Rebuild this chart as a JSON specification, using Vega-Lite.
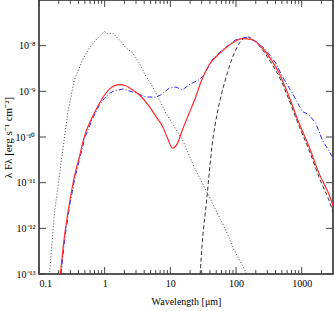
{
  "$schema": "https://vega.github.io/schema/vega-lite/v6.json",
  "width": 294,
  "height": 274,
  "autosize": {"type": "none"},
  "padding": {"left": 39, "top": 0, "right": 2, "bottom": 37},
  "background": "white",
  "config": {
    "font": "Liberation Serif",
    "view": {"stroke": "#222", "strokeWidth": 1.5},
    "axis": {"domain": false, "grid": false, "ticks": false, "labelFont": "Liberation Serif", "titleFont": "Liberation Serif", "labelColor": "#000", "titleColor": "#000", "labelFontSize": 10, "titleFontSize": 10, "titleFontWeight": "normal"}
  },
  "datasets": {
    "xmajor": [{"t": 0.1}, {"t": 1}, {"t": 10}, {"t": 100}, {"t": 1000}],
    "xminor": [{"t": 0.2}, {"t": 0.3}, {"t": 0.4}, {"t": 0.5}, {"t": 0.6}, {"t": 0.7}, {"t": 0.8}, {"t": 0.9},
               {"t": 2}, {"t": 3}, {"t": 4}, {"t": 5}, {"t": 6}, {"t": 7}, {"t": 8}, {"t": 9},
               {"t": 20}, {"t": 30}, {"t": 40}, {"t": 50}, {"t": 60}, {"t": 70}, {"t": 80}, {"t": 90},
               {"t": 200}, {"t": 300}, {"t": 400}, {"t": 500}, {"t": 600}, {"t": 700}, {"t": 800}, {"t": 900}, {"t": 2000}],
    "ymajor": [{"t": 1e-13}, {"t": 1e-12}, {"t": 1e-11}, {"t": 1e-10}, {"t": 1e-9}, {"t": 1e-8}],
    "red": [
      {"w": 0.205, "f": 6e-14}, {"w": 0.212, "f": 1e-13}, {"w": 0.244, "f": 6.6e-13}, {"w": 0.291, "f": 3.55e-12},
      {"w": 0.346, "f": 1.36e-11}, {"w": 0.413, "f": 3.73e-11}, {"w": 0.491, "f": 1.03e-10}, {"w": 0.621, "f": 2.38e-10},
      {"w": 0.783, "f": 4.67e-10}, {"w": 0.99, "f": 8.2e-10}, {"w": 1.18, "f": 1.12e-9}, {"w": 1.4, "f": 1.32e-9},
      {"w": 1.7, "f": 1.4e-9}, {"w": 2.0, "f": 1.36e-9}, {"w": 2.37, "f": 1.2e-9}, {"w": 3.37, "f": 8.4e-10},
      {"w": 4.78, "f": 4.67e-10}, {"w": 6.04, "f": 2.82e-10}, {"w": 7.61, "f": 1.7e-10}, {"w": 9.06, "f": 9.46e-11},
      {"w": 10.8, "f": 5.71e-11}, {"w": 12.9, "f": 7.35e-11}, {"w": 15.3, "f": 1.44e-10}, {"w": 19.4, "f": 3.34e-10},
      {"w": 24.5, "f": 7.73e-10}, {"w": 29.2, "f": 1.6e-9}, {"w": 39, "f": 3.83e-9}, {"w": 55.3, "f": 6.6e-9},
      {"w": 88.2, "f": 1.15e-8}, {"w": 125, "f": 1.43e-8}, {"w": 177, "f": 1.35e-8}, {"w": 252, "f": 8.9e-9},
      {"w": 357, "f": 4.53e-9}, {"w": 452, "f": 2.52e-9}, {"w": 641, "f": 7.73e-10}, {"w": 910, "f": 2.02e-10},
      {"w": 1291, "f": 6.19e-11}, {"w": 1832, "f": 1.62e-11}, {"w": 2917, "f": 3.55e-12}, {"w": 3000, "f": 3.1e-12}
    ],
    "blue": [
      {"w": 0.207, "f": 6e-14}, {"w": 0.217, "f": 1e-13}, {"w": 0.248, "f": 6.4e-13}, {"w": 0.296, "f": 3.4e-12},
      {"w": 0.353, "f": 1.3e-11}, {"w": 0.42, "f": 3.5e-11}, {"w": 0.5, "f": 9.6e-11}, {"w": 0.628, "f": 2.2e-10},
      {"w": 0.83, "f": 5.0e-10}, {"w": 0.99, "f": 7.0e-10}, {"w": 1.18, "f": 9.0e-10}, {"w": 1.4, "f": 1.03e-9},
      {"w": 1.88, "f": 1.12e-9}, {"w": 3.0, "f": 9.2e-10}, {"w": 4.26, "f": 7.5e-10}, {"w": 6.04, "f": 7.5e-10},
      {"w": 7.2, "f": 8.4e-10}, {"w": 9.62, "f": 1.18e-9}, {"w": 12.2, "f": 1.24e-9}, {"w": 15.3, "f": 1.08e-9},
      {"w": 19.4, "f": 1.4e-9}, {"w": 27.5, "f": 1.8e-9}, {"w": 32.7, "f": 2.31e-9}, {"w": 43.8, "f": 4.93e-9},
      {"w": 62.1, "f": 8.17e-9}, {"w": 99.3, "f": 1.35e-8}, {"w": 141, "f": 1.52e-8}, {"w": 200, "f": 1.24e-8},
      {"w": 284, "f": 8.17e-9}, {"w": 403, "f": 4.18e-9}, {"w": 507, "f": 2.12e-9}, {"w": 719, "f": 9.18e-10},
      {"w": 1021, "f": 3.62e-10}, {"w": 1291, "f": 3.07e-10}, {"w": 1633, "f": 2.02e-10}, {"w": 2057, "f": 8.69e-11},
      {"w": 2917, "f": 3.73e-11}, {"w": 3000, "f": 3.4e-11}
    ],
    "dotted": [
      {"w": 0.14, "f": 6e-14}, {"w": 0.1445, "f": 1e-13}, {"w": 0.172, "f": 2.18e-12}, {"w": 0.217, "f": 2.72e-11},
      {"w": 0.274, "f": 3.4e-10}, {"w": 0.346, "f": 1.8e-9}, {"w": 0.463, "f": 4.93e-9}, {"w": 0.585, "f": 8.9e-9},
      {"w": 0.74, "f": 1.35e-8}, {"w": 0.99, "f": 2.06e-8}, {"w": 1.11, "f": 1.83e-8}, {"w": 1.32, "f": 1.9e-8},
      {"w": 1.67, "f": 1.35e-8}, {"w": 2.11, "f": 8.9e-9}, {"w": 2.67, "f": 6.92e-9}, {"w": 3.37, "f": 4.18e-9},
      {"w": 4.26, "f": 2.12e-9}, {"w": 5.36, "f": 1.28e-9}, {"w": 6.78, "f": 6.55e-10}, {"w": 8.57, "f": 3.34e-10},
      {"w": 15.3, "f": 8.69e-11}, {"w": 23, "f": 2.2e-11}, {"w": 39, "f": 4.96e-12}, {"w": 73.3, "f": 7.9e-13},
      {"w": 93.5, "f": 3.36e-13}, {"w": 147, "f": 1e-13}, {"w": 155, "f": 7e-14}
    ],
    "dashed": [
      {"w": 27.8, "f": 5e-14}, {"w": 28.5, "f": 1e-13}, {"w": 36.4, "f": 5.4e-12}, {"w": 43.4, "f": 6.74e-11},
      {"w": 51.6, "f": 3.23e-10}, {"w": 61.5, "f": 9.8e-10}, {"w": 74, "f": 2.56e-9}, {"w": 99.3, "f": 8.17e-9},
      {"w": 133, "f": 1.46e-8}, {"w": 153, "f": 1.55e-8}, {"w": 177, "f": 1.4e-8}, {"w": 252, "f": 8.17e-9},
      {"w": 357, "f": 3.83e-9}, {"w": 452, "f": 2.12e-9}, {"w": 641, "f": 6.55e-10}, {"w": 910, "f": 1.76e-10},
      {"w": 1291, "f": 5.24e-11}, {"w": 1832, "f": 1.34e-11}, {"w": 2917, "f": 2.53e-12}, {"w": 3000, "f": 2.2e-12}
    ]
  },
  "layer": [
    {
      "data": {"name": "dotted"},
      "mark": {"type": "line", "color": "#444", "strokeWidth": 1, "strokeDash": [1, 2], "clip": true},
      "encoding": {
        "x": {"field": "w", "type": "quantitative", "scale": {"type": "log", "domain": [0.1, 3000], "nice": false},
              "axis": {"orient": "bottom", "values": [0.1, 1, 10, 100, 1000], "labelPadding": 4, "format": "~r", "title": "Wavelength [μm]", "titlePadding": 8}},
        "y": {"field": "f", "type": "quantitative", "scale": {"type": "log", "domain": [1e-13, 1e-7], "nice": false},
              "axis": {"orient": "left", "values": [1e-13, 1e-12, 1e-11, 1e-10, 1e-9, 1e-8], "labelPadding": 4, "title": "λ Fλ [erg s⁻¹ cm⁻²]", "titleFontSize": 11, "titlePadding": 2,
                       "labelExpr": "datum.value < 3e-13 ? '10⁻¹³' : datum.value < 3e-12 ? '10⁻¹²' : datum.value < 3e-11 ? '10⁻¹¹' : datum.value < 3e-10 ? '10⁻¹⁰' : datum.value < 3e-9 ? '10⁻⁹' : '10⁻⁸'"}}
      }
    },
    {
      "data": {"name": "dashed"},
      "mark": {"type": "line", "color": "#333", "strokeWidth": 1, "strokeDash": [4, 2.5], "clip": true, "interpolate": "monotone"},
      "encoding": {
        "x": {"field": "w", "type": "quantitative", "axis": null},
        "y": {"field": "f", "type": "quantitative", "axis": null}
      }
    },
    {
      "data": {"name": "blue"},
      "mark": {"type": "line", "color": "#2a2aff", "strokeWidth": 1, "strokeDash": [5, 2, 1, 2], "clip": true},
      "encoding": {
        "x": {"field": "w", "type": "quantitative", "axis": null},
        "y": {"field": "f", "type": "quantitative", "axis": null}
      }
    },
    {
      "data": {"name": "red"},
      "mark": {"type": "line", "color": "#ff2a2a", "strokeWidth": 1.2, "clip": true, "interpolate": "monotone"},
      "encoding": {
        "x": {"field": "w", "type": "quantitative", "axis": null},
        "y": {"field": "f", "type": "quantitative", "axis": null}
      }
    },
    {
      "data": {"name": "xmajor"},
      "mark": {"type": "rule", "color": "#444", "strokeWidth": 1},
      "encoding": {
        "x": {"field": "t", "type": "quantitative", "axis": null},
        "y": {"datum": 1e-13, "type": "quantitative", "axis": null},
        "y2": {"datum": 1.42e-13}
      }
    },
    {
      "data": {"name": "xmajor"},
      "mark": {"type": "rule", "color": "#444", "strokeWidth": 1},
      "encoding": {
        "x": {"field": "t", "type": "quantitative", "axis": null},
        "y": {"datum": 1e-7, "type": "quantitative", "axis": null},
        "y2": {"datum": 7.04e-8}
      }
    },
    {
      "data": {"name": "xminor"},
      "mark": {"type": "rule", "color": "#444", "strokeWidth": 1},
      "encoding": {
        "x": {"field": "t", "type": "quantitative", "axis": null},
        "y": {"datum": 1e-13, "type": "quantitative", "axis": null},
        "y2": {"datum": 1.22e-13}
      }
    },
    {
      "data": {"name": "xminor"},
      "mark": {"type": "rule", "color": "#444", "strokeWidth": 1},
      "encoding": {
        "x": {"field": "t", "type": "quantitative", "axis": null},
        "y": {"datum": 1e-7, "type": "quantitative", "axis": null},
        "y2": {"datum": 8.2e-8}
      }
    },
    {
      "data": {"name": "ymajor"},
      "mark": {"type": "rule", "color": "#444", "strokeWidth": 1},
      "encoding": {
        "y": {"field": "t", "type": "quantitative", "axis": null},
        "x": {"datum": 0.1, "type": "quantitative", "axis": null},
        "x2": {"datum": 0.128}
      }
    },
    {
      "data": {"name": "ymajor"},
      "mark": {"type": "rule", "color": "#444", "strokeWidth": 1},
      "encoding": {
        "y": {"field": "t", "type": "quantitative", "axis": null},
        "x": {"datum": 3000, "type": "quantitative", "axis": null},
        "x2": {"datum": 2350}
      }
    }
  ],
  "resolve": {"axis": {"x": "independent", "y": "independent"}}
}
